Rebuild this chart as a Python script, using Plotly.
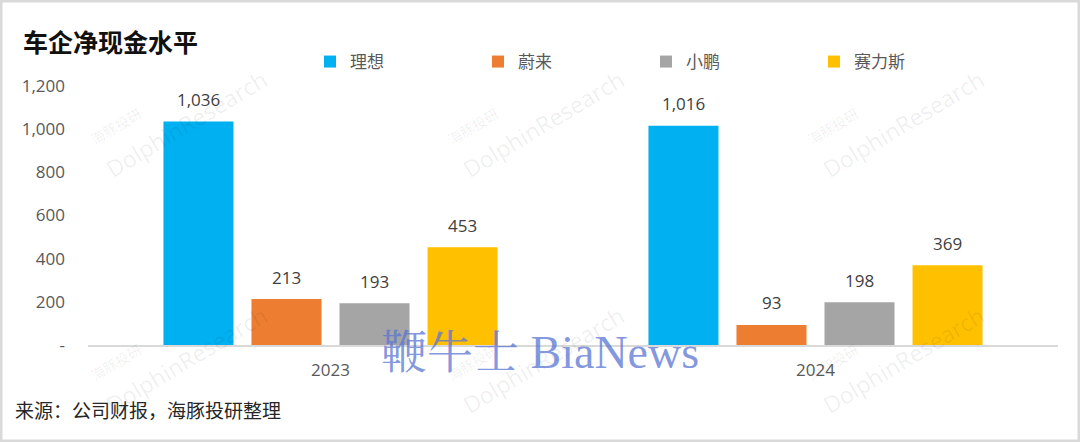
import plotly.graph_objects as go

# ---- data ----
categories = ["2023", "2024"]
series_names = ["理想", "蔚来", "小鹏", "赛力斯"]
li_auto = [1036, 1016]
nio = [213, 93]
xpeng = [193, 198]
seres = [453, 369]
series_values = [li_auto, nio, xpeng, seres]
y_tickvals = [0, 200, 400, 600, 800, 1000, 1200]
y_ticktext = ["-", "200", "400", "600", "800", "1,000", "1,200"]

title_text = "车企净现金水平"
source_text = "来源：公司财报，海豚投研整理"

# ---- style ----
colors = ["#00B0F0", "#ED7D31", "#A5A5A5", "#FFC000"]
W, H = 1080, 442
ML, MR, MT, MB = 88, 22, 86, 97
PW, PH = W - ML - MR, H - MT - MB
FONT = "Open Sans, Noto Sans CJK SC, sans-serif"
CJK = "Noto Sans CJK SC, sans-serif"


def px_x(px):
    return (px - ML) / PW


def px_y(py):
    return (H - MB - py) / PH


fig = go.Figure()
for name, vals, c in zip(series_names, series_values, colors):
    fig.add_trace(go.Bar(
        x=categories, y=vals, name=name, marker=dict(color=c, line=dict(width=0)),
        hoverinfo="x+y+name",
    ))

annotations = []

# faint watermarks (drawn first, behind other annotations)
wm_cols = [186, 543, 903]
wm_rows = [124, 360]
for cx in wm_cols:
    for cy in wm_rows:
        annotations.append(dict(
            x=px_x(cx), y=px_y(cy), xref="paper", yref="paper", showarrow=False,
            xanchor="center", yanchor="middle",
            text="DolphinResearch", textangle=-31,
            font=dict(family="Open Sans, sans-serif", size=23, color="rgba(0,0,0,0.07)"),
        ))
        annotations.append(dict(
            x=px_x(cx - 70), y=px_y(cy + 2), xref="paper", yref="paper", showarrow=False,
            xanchor="center", yanchor="middle",
            text="海豚投研", textangle=-31,
            font=dict(family=CJK, size=14, color="rgba(0,0,0,0.07)"),
        ))

# data labels (x given as category index on the category axis)
slot_px = 88
n = len(series_values)
for i, vals in enumerate(series_values):
    for j, v in enumerate(vals):
        annotations.append(dict(
            x=j, y=v, xref="x", yref="y", text=f"{v:,}", showarrow=False,
            xshift=(i - (n - 1) / 2) * slot_px, yshift=22, yanchor="middle",
            font=dict(family=FONT, size=17, color="#404040"),
        ))

# title & source
annotations.append(dict(
    x=px_x(21), y=px_y(41), xref="paper", yref="paper", xanchor="left", yanchor="middle",
    text="<b>" + title_text + "</b>", showarrow=False,
    font=dict(family=CJK, size=25, color="#111111"),
))
annotations.append(dict(
    x=px_x(13), y=px_y(409), xref="paper", yref="paper", xanchor="left", yanchor="middle",
    text=source_text, showarrow=False,
    font=dict(family=CJK, size=19, color="#262626"),
))

# BiaNews watermark
annotations.append(dict(
    x=px_x(540), y=px_y(352), xref="paper", yref="paper", showarrow=False,
    xanchor="center", yanchor="middle",
    text="鞭牛士 BiaNews",
    font=dict(family="Liberation Serif, Noto Serif CJK SC, serif", size=46, color="rgba(90,118,212,0.75)"),
))

fig.update_layout(
    width=W, height=H,
    margin=dict(l=ML, r=MR, t=MT, b=MB, pad=0),
    paper_bgcolor="white", plot_bgcolor="white",
    barmode="group", bargap=0.274, bargroupgap=0.2045,
    font=dict(family=FONT, size=17, color="#595959"),
    showlegend=True,
    legend=dict(
        orientation="h", x=px_x(310), y=px_y(62), xanchor="left", yanchor="middle",
        entrywidth=123, entrywidthmode="pixels", traceorder="normal",
        font=dict(family=CJK, size=17, color="#595959"), bgcolor="rgba(0,0,0,0)",
    ),
    xaxis=dict(
        type="category", range=[-0.5, len(categories) - 0.5],
        showgrid=False, zeroline=False, showline=True,
        linecolor="#D9D9D9", linewidth=1.5, ticks="", ticklabelstandoff=9,
        tickfont=dict(family=FONT, size=17, color="#595959"), fixedrange=True,
    ),
    yaxis=dict(
        range=[0, 1200], tickvals=y_tickvals, ticktext=y_ticktext,
        showgrid=False, zeroline=False, showline=False, ticks="",
        ticklabelstandoff=22,
        tickfont=dict(family=FONT, size=17, color="#595959"), fixedrange=True,
    ),
    annotations=annotations,
    shapes=[dict(
        type="rect", xref="paper", yref="paper",
        x0=px_x(1), x1=px_x(W - 1), y0=px_y(H - 1), y1=px_y(1),
        line=dict(color="#D9D9D9", width=3), fillcolor="rgba(0,0,0,0)", layer="above",
    )],
)

html = fig.to_html(full_html=True, include_plotlyjs=True, config={"displayModeBar": False})
html = html.replace("<head>", "<head><style>html,body{margin:0;padding:0;overflow:hidden;}</style>", 1)
with open("out.html", "w", encoding="utf-8") as f:
    f.write(html)
